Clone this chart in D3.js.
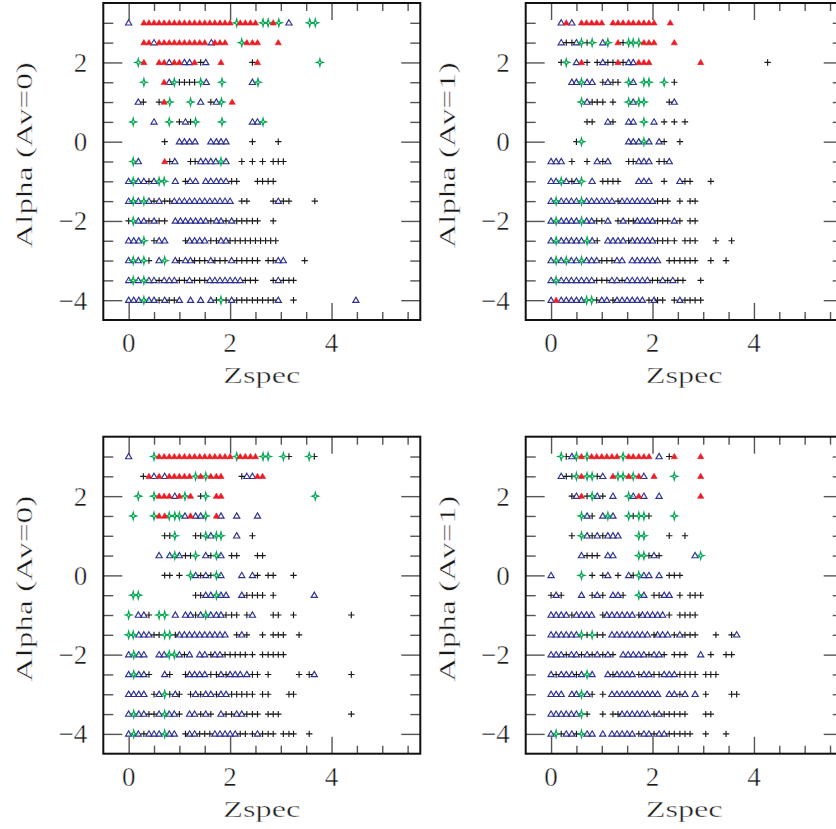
<!DOCTYPE html>
<html>
<head>
<meta charset="utf-8">
<script src="https://cdn.jsdelivr.net/npm/d3@7"></script>
<style>
  html, body { margin: 0; padding: 0; background: #fff; overflow: hidden; }
  svg { display: block; }
  svg text { font-family: "Liberation Serif", serif; font-weight: 400; }
</style>
</head>
<body>
<svg id="chart" width="836" height="829"></svg>
<script>
// Alpha grid rows shared by every panel (top to bottom)
const alphaRows = [3, 2.5, 2, 1.5, 1, 0.5, 0, -0.5, -1, -1.5, -2, -2.5, -3, -3.5, -4];

// Upper-left panel, Av = 0 : Zspec values per alpha row
const a0TopOpen = [
  [0.0, 3.16], [0.5, 1.63], [0.8, 1.1, 1.2, 1.52], [0.8, 1.53, 2.44], [0.19, 1.42, 1.73],
  [0.5, 1.12, 2.44, 2.54], [1.0, 1.1, 1.2, 1.31, 1.62, 1.73, 1.82, 1.92],
  [0.19, 0.91, 1.42, 1.52, 1.62, 1.72, 1.92],
  [0.0, 0.19, 0.3, 0.5, 0.92, 1.21, 1.32, 1.52, 1.62, 1.73, 1.82, 1.92],
  [0.0, 0.19, 0.4, 0.6, 0.9, 1.0, 1.1, 1.2, 1.3, 1.4, 1.5, 1.6, 1.7, 1.8, 1.9, 2.0, 2.95],
  [0.19, 0.3, 0.5, 0.92, 1.02, 1.12, 1.22, 1.32, 1.42, 1.52, 1.73, 1.82, 2.03],
  [0.0, 0.1, 0.2, 0.6, 0.71, 1.2, 1.3, 1.4, 1.5, 1.82, 1.92],
  [0.0, 0.19, 0.6, 0.92, 1.12, 1.22, 1.62, 2.03, 2.95, 3.05],
  [0.0, 0.19, 0.4, 0.5, 0.7, 0.8, 0.9, 1.2, 1.6, 1.7, 1.8, 1.9, 2.0, 2.1, 2.2, 2.95],
  [0.0, 0.1, 0.2, 0.4, 0.5, 0.71, 1.0, 1.22, 1.42, 1.62, 2.03, 2.95, 4.48]
];
const a0TopCross = [
  [], [], [1.42, 2.44], [1.0, 1.1, 1.2, 1.3], [0.29, 0.6, 1.62], [1.0, 1.22], [0.71, 2.44, 2.95],
  [0.81, 1.22, 1.31, 2.23, 2.44, 2.64, 2.85, 2.95, 3.05],
  [0.4, 1.12, 2.03, 2.13, 2.54, 2.64, 2.75, 2.85],
  [0.5, 0.71, 0.81, 2.23, 2.33, 2.85, 3.05, 3.16, 3.67],
  [0.0, 0.4, 0.6, 0.71, 1.62, 1.92, 2.13, 2.23, 2.33, 2.44, 2.54, 2.85],
  [0.5, 1.12, 1.62, 1.73, 2.0, 2.1, 2.2, 2.3, 2.4, 2.5, 2.6, 2.7, 2.8, 2.9],
  [0.4, 1.0, 1.3, 1.4, 1.5, 1.7, 1.8, 1.9, 2.13, 2.23, 2.33, 2.44, 2.54, 2.75, 2.85, 3.47],
  [0.6, 1.0, 1.1, 1.3, 1.4, 1.5, 2.3, 2.4, 2.5, 2.85, 3.05, 3.16, 3.25],
  [0.6, 0.8, 0.9, 1.73, 1.92, 2.13, 2.23, 2.33, 2.44, 2.54, 2.64, 2.75, 2.85, 3.25]
];
const a0TopStar = [
  [2.13, 2.65, 2.75, 2.96, 3.57, 3.68], [2.23], [0.19, 3.77], [0.3, 0.9, 1.42, 1.84, 2.55],
  [0.81, 1.22, 1.83], [0.09, 0.8, 1.32, 1.84, 2.65], [], [0.09, 1.82], [0.09, 0.6, 0.7],
  [0.09, 0.3], [0.09], [0.3], [0.09, 0.3, 0.71], [0.09, 0.3], [0.3, 1.82]
];
const a0TopFilled = [
  [0.3, 0.4, 0.5, 0.6, 0.7, 0.8, 0.9, 1.0, 1.1, 1.2, 1.3, 1.4, 1.5, 1.6, 1.7, 1.8, 1.9, 2.0, 2.2, 2.3, 2.4, 2.5, 2.85],
  [0.3, 0.4, 0.6, 0.7, 0.8, 0.9, 1.0, 1.1, 1.2, 1.3, 1.4, 1.5, 1.7, 1.8, 1.9, 2.33, 2.44, 2.54, 2.95],
  [0.3, 0.6, 0.7, 0.9, 1.0, 1.3, 1.82, 2.54],
  [0.7], [0.7, 2.04], [], [], [0.71], [], [], [], [], [], [], []
];

// Upper-right panel, Av = 1
const a1TopOpen = [
  [0.2, 0.41], [0.2, 0.5, 1.02], [0.5, 1.02, 1.53, 1.62], [0.41, 0.5, 0.71, 0.81, 1.12, 1.62],
  [0.71, 1.62, 2.43], [1.12, 1.53, 1.62, 2.03], [1.53, 1.62, 1.73, 1.93, 2.13],
  [0.0, 0.1, 0.2, 0.91, 1.12, 1.73, 1.83, 1.93, 2.33],
  [0.0, 0.1, 0.3, 0.5, 0.81, 1.73, 1.83, 1.93, 2.54],
  [0.0, 0.2, 0.3, 0.4, 0.5, 0.7, 0.8, 0.9, 1.0, 1.1, 1.2, 1.4, 1.5, 1.6, 1.7, 1.8, 1.9, 2.0],
  [0.0, 0.2, 0.3, 0.4, 0.5, 0.7, 0.8, 1.12, 1.42, 1.7, 1.8, 1.9, 2.0, 2.43],
  [0.0, 0.2, 0.3, 0.4, 0.5, 0.6, 0.81, 1.12, 1.22, 1.32, 1.42, 1.6, 1.7, 1.8, 1.9, 2.0],
  [0.0, 0.2, 0.4, 0.5, 0.7, 0.8, 0.9, 1.3, 1.4, 1.6, 1.7, 1.8, 1.9, 2.0, 2.1],
  [0.0, 0.2, 0.3, 0.4, 0.5, 0.6, 0.7, 0.8, 1.2, 1.3, 1.5, 1.6, 1.7, 1.8, 1.9, 2.2, 2.4],
  [0.0, 0.2, 0.3, 0.4, 0.5, 0.6, 1.0, 1.1, 1.3, 1.4, 1.5, 1.6, 1.7, 1.8, 2.03, 2.54]
];
const a1TopCross = [
  [], [0.3, 0.41, 0.71, 1.42], [0.2, 0.71, 0.91, 1.12, 1.22, 1.42, 4.27], [1.02, 1.22, 1.32, 2.43],
  [0.81, 0.91, 1.02, 1.22, 2.33], [0.71, 0.81, 1.22, 2.23, 2.43, 2.64], [0.5, 2.23, 2.54],
  [0.41, 0.71, 1.02, 1.53, 1.62, 2.13, 2.23],
  [0.41, 1.02, 1.12, 1.22, 1.32, 2.23, 2.64, 2.74, 3.15],
  [1.32, 2.1, 2.2, 2.3, 2.54, 2.74, 2.84],
  [0.9, 1.0, 1.32, 1.53, 1.62, 2.1, 2.2, 2.3, 2.54, 2.74, 2.84],
  [0.91, 1.53, 2.1, 2.2, 2.3, 2.43, 2.64, 2.74, 2.84, 3.25, 3.56],
  [1.0, 1.1, 1.2, 2.33, 2.43, 2.54, 2.64, 2.74, 2.84, 3.15, 3.45],
  [0.9, 1.0, 1.1, 1.4, 2.0, 2.1, 2.3, 2.5, 2.6, 2.95],
  [0.9, 1.22, 1.93, 2.1, 2.2, 2.43, 2.64, 2.74, 2.84, 2.95]
];
const a1TopStar = [
  [], [0.6, 0.81, 1.12, 1.53, 1.62, 1.73], [0.3], [0.6, 1.53, 1.83, 1.93, 2.23],
  [0.6, 1.53, 1.73, 1.83], [1.83], [0.6, 1.83], [], [0.2, 0.6], [0.1, 0.6], [0.1, 0.6],
  [0.1, 0.71], [0.1, 0.3, 0.6], [0.1], [0.7, 0.8]
];
const a1TopFilled = [
  [0.3, 0.6, 0.7, 0.8, 0.9, 1.0, 1.22, 1.32, 1.42, 1.53, 1.62, 1.73, 1.83, 1.93, 2.03, 2.35],
  [1.32, 1.83, 1.93, 2.03, 2.43],
  [0.6, 1.32, 1.73, 1.83, 1.93, 2.95],
  [], [], [], [], [], [], [], [], [], [], [], [0.1]
];

// Lower-left panel, Av = 0
const a0BotOpen = [
  [0.0], [0.5, 0.71, 2.33, 2.44], [0.91], [1.11, 1.32, 1.42, 1.82, 2.13, 2.54], [1.62, 2.13],
  [0.6, 0.81, 1.0, 1.52, 1.82], [1.32, 1.52, 1.82, 2.23, 2.44],
  [1.52, 1.62, 1.82, 1.92, 2.23, 3.66],
  [0.19, 0.3, 0.92, 1.12, 1.22, 1.42, 1.62, 1.73, 1.82, 2.44],
  [0.2, 0.3, 0.4, 1.0, 1.1, 1.2, 1.3, 1.4, 1.5, 1.6, 1.7, 1.8, 1.9, 2.23],
  [0.0, 0.2, 0.3, 0.6, 0.7, 1.0, 1.2, 1.4, 1.5, 1.7, 1.8],
  [0.0, 0.2, 0.3, 0.71, 1.2, 1.3, 1.4, 1.5, 1.82, 2.0, 2.1, 2.2, 2.33, 3.66],
  [0.0, 0.1, 0.2, 0.3, 0.6, 0.92, 1.32, 1.52, 1.62, 1.82, 1.92],
  [0.0, 0.2, 0.3, 0.6, 0.8, 0.9, 1.2, 1.3, 1.52, 1.82, 2.13, 2.23],
  [0.0, 0.19, 0.4, 0.5, 0.6, 0.8, 0.9, 1.2, 1.3, 1.7, 1.8, 1.9, 2.0, 2.1, 2.54]
];
const a0BotCross = [
  [3.16, 3.66], [0.29, 2.23], [1.42], [], [0.71, 0.81, 1.32, 1.42, 2.44],
  [1.12, 1.22, 1.62, 2.03, 2.13, 2.54, 2.64],
  [0.71, 0.81, 1.0, 1.42, 1.62, 2.54, 2.75, 2.85, 3.25],
  [1.32, 1.42, 2.33, 2.44, 2.54, 2.64, 2.85],
  [0.4, 1.32, 1.92, 2.03, 2.13, 2.33, 2.85, 2.95, 3.25, 4.39],
  [0.5, 0.6, 0.92, 2.13, 2.33, 2.64, 2.85, 2.95, 3.05, 3.36],
  [1.1, 1.62, 1.9, 2.0, 2.1, 2.2, 2.3, 2.44, 2.64, 2.75, 2.85, 2.95, 3.05],
  [0.4, 0.81, 1.12, 1.62, 1.73, 1.92, 2.44, 2.54, 2.75, 3.36, 3.56, 4.39],
  [0.5, 0.81, 1.0, 1.22, 1.42, 1.73, 2.03, 2.13, 2.23, 2.33, 2.44, 2.64, 2.75, 3.16, 3.25],
  [0.4, 0.5, 1.0, 1.42, 1.62, 1.92, 2.03, 2.33, 2.44, 2.54, 2.75, 2.85, 2.95, 4.39],
  [0.3, 1.12, 1.4, 1.5, 1.6, 2.2, 2.3, 2.44, 2.64, 2.75, 2.85, 3.05, 3.16, 3.25, 3.56]
];
const a0BotStar = [
  [0.5, 2.13, 2.65, 2.75, 3.05, 3.56], [1.32, 1.52], [0.19, 0.5, 1.11, 1.52, 3.68],
  [0.09, 0.5, 0.8, 0.91, 1.0, 1.52], [0.91, 1.52, 1.73, 1.82], [0.91, 1.32, 1.73],
  [1.22, 1.73], [0.09, 0.19, 1.73], [0.0, 0.6, 0.71, 1.52], [0.0, 0.09, 0.71, 0.81],
  [0.1, 0.8, 0.9], [0.1], [0.71], [0.1, 0.71], [0.1, 0.71]
];
const a0BotFilled = [
  [0.6, 0.7, 0.8, 0.9, 1.0, 1.1, 1.2, 1.3, 1.4, 1.5, 1.6, 1.7, 1.8, 1.9, 2.0, 2.2, 2.3, 2.4, 2.5],
  [0.4, 0.6, 0.8, 0.9, 1.0, 1.1, 1.2, 1.42, 1.62, 1.73, 1.82, 2.54, 2.64],
  [0.6, 0.7, 0.8, 1.0, 1.22, 1.73, 1.82],
  [0.6, 0.71, 1.22, 1.73],
  [], [], [], [], [], [], [], [], [], [], []
];

// Lower-right panel, Av = 1
const a1BotOpen = [
  [0.41, 2.13], [0.2, 1.02, 1.83], [0.5, 0.91, 1.22, 1.62, 1.83, 2.13], [0.71, 1.02, 1.22],
  [0.71, 0.91, 1.12, 1.22, 1.32], [0.6, 1.12, 1.22, 2.03, 2.84], [0.0, 1.12, 1.53, 1.83, 1.93, 2.13],
  [0.1, 0.6, 0.91, 1.22, 1.32, 1.83, 2.23, 2.33],
  [0.0, 0.1, 0.2, 0.3, 0.5, 0.6, 0.7, 0.8, 1.1, 1.2, 1.3, 1.4, 1.5, 1.6, 1.8, 1.9, 2.0, 2.1, 2.2],
  [0.0, 0.1, 0.2, 0.3, 0.4, 0.5, 1.2, 1.3, 1.4, 1.5, 1.6, 1.7, 1.8, 1.9, 2.1, 2.2, 2.3, 2.54, 3.66],
  [0.0, 0.1, 0.2, 0.4, 0.5, 0.71, 0.91, 1.12, 1.42, 1.52, 1.62, 1.73, 1.83, 2.03, 2.13, 2.95],
  [0.0, 0.2, 0.3, 0.41, 0.6, 0.81, 1.12, 1.3, 1.4, 1.5, 1.6, 1.83, 1.93, 2.23, 2.33, 2.43],
  [0.0, 0.1, 0.2, 0.41, 0.5, 0.71, 1.2, 1.3, 1.4, 1.5, 1.6, 1.7, 1.8, 1.9, 2.0, 2.1, 2.33, 2.43, 2.64, 2.84],
  [0.0, 0.1, 0.2, 0.3, 0.4, 0.5, 1.4, 1.5, 1.6, 1.7, 1.8, 1.9, 2.13],
  [0.0, 0.3, 0.41, 0.71, 0.81, 1.02, 1.2, 1.3, 1.4, 1.5, 1.6, 1.83, 1.93, 2.13, 2.23]
];
const a1BotCross = [
  [0.3, 2.33], [0.3, 0.41, 0.91], [0.41, 0.71, 1.02], [0.81, 1.62, 1.93],
  [0.41, 0.81, 1.02, 2.33, 2.64], [0.71, 0.81, 0.91, 1.93, 2.13],
  [0.81, 1.02, 1.32, 1.62, 2.33, 2.43, 2.54],
  [0.0, 0.2, 0.81, 1.02, 1.42, 2.03, 2.13, 2.54, 2.74, 2.84, 2.95],
  [0.41, 1.02, 1.73, 2.33, 2.54, 2.64, 2.74, 2.84],
  [0.71, 0.91, 1.02, 2.03, 2.43, 2.64, 2.74, 2.84, 3.25, 3.56],
  [0.3, 0.6, 0.81, 1.02, 1.22, 1.93, 2.23, 2.43, 2.54, 2.64, 3.15, 3.45, 3.56],
  [0.1, 0.5, 1.22, 1.73, 2.03, 2.13, 2.54, 2.64, 2.74, 2.84, 3.05, 3.15, 3.25],
  [0.81, 1.02, 2.54, 3.05, 3.56, 3.66],
  [0.71, 1.02, 1.22, 1.32, 2.03, 2.23, 2.33, 2.43, 2.54, 2.64, 3.05, 3.15],
  [0.2, 0.5, 1.73, 2.03, 2.33, 2.43, 2.54, 2.64, 2.74, 3.05, 3.45]
];
const a1BotStar = [
  [0.2, 0.5, 0.71, 1.42], [0.5, 0.71, 0.81, 1.32, 1.42, 1.62, 2.43], [0.81, 1.53],
  [0.6, 1.12, 1.53, 1.73, 1.83, 2.43], [0.6, 1.73, 1.83], [1.73, 1.83, 2.95], [0.6, 1.73],
  [1.73], [], [0.6, 0.81], [], [0.71], [0.6], [0.6], [0.1, 0.6]
];
const a1BotFilled = [
  [0.6, 0.8, 0.9, 1.0, 1.1, 1.2, 1.3, 1.53, 1.62, 1.73, 1.83, 1.93, 2.43, 2.95],
  [0.6, 1.22, 1.53, 1.73, 2.03, 2.95],
  [0.6, 1.73, 2.95],
  [], [], [], [], [], [], [], [], [], [], [], []
];

// Axis settings
const zspecDomain = [-0.5, 5.75];
const alphaDomain = [-4.5, 3.5];
const zspecTicks = [0, 0.5, 1, 1.5, 2, 2.5, 3, 3.5, 4, 4.5, 5, 5.5];
const zspecMajor = [0, 2, 4];
const alphaTicks = [-4, -3.5, -3, -2.5, -2, -1.5, -1, -0.5, 0, 0.5, 1, 1.5, 2, 2.5, 3];
const alphaMajor = [-4, -2, 0, 2];
const xTitle = "Zspec";

const panels = [
  { left: 103.3, top: 3,     title: "Alpha (Av=0)", open: a0TopOpen, cross: a0TopCross, star: a0TopStar, filled: a0TopFilled },
  { left: 525.7, top: 3,     title: "Alpha (Av=1)", open: a1TopOpen, cross: a1TopCross, star: a1TopStar, filled: a1TopFilled },
  { left: 103.3, top: 436.7, title: "Alpha (Av=0)", open: a0BotOpen, cross: a0BotCross, star: a0BotStar, filled: a0BotFilled },
  { left: 525.7, top: 436.7, title: "Alpha (Av=1)", open: a1BotOpen, cross: a1BotCross, star: a1BotStar, filled: a1BotFilled }
];

const W = 317, H = 317;
const svg = d3.select("#chart");
svg.append("rect").attr("width", 836).attr("height", 829).attr("fill", "#fff");

// Marker paths centred at the origin
const triPath = "M0,-3.1L3.1,2.2L-3.1,2.2Z";
const crossPath = "M-3.2,0H3.2M0,-3.2V3.2";
const starPath = "M0,-3.8L0.8,-0.8L3.4,0L0.8,0.8L0,3.8L-0.8,0.8L-3.4,0L-0.8,-0.8Z";

function pointsOf(rows) {
  const pts = [];
  rows.forEach((zs, i) => zs.forEach(z => pts.push({ z, a: alphaRows[i] })));
  return pts;
}

// thin the serif glyphs slightly with a white outline painted over the fill
const lightText = sel => sel.attr("fill", "#1a1a1a").attr("stroke", "#fff")
  .attr("stroke-width", 0.4).attr("paint-order", "fill");

panels.forEach(p => {
  const x = d3.scaleLinear().domain(zspecDomain).range([p.left, p.left + W]);
  const y = d3.scaleLinear().domain(alphaDomain).range([p.top + H, p.top]);
  const g = svg.append("g");

  // tick marks on all four sides, pointing inward
  const tickStyle = sel => {
    sel.select(".domain").remove();
    sel.selectAll(".tick line").attr("stroke", "#555").attr("stroke-width", 1.4);
    sel.selectAll(".tick text").remove();
  };
  const xMinor = zspecTicks.filter(v => !zspecMajor.includes(v));
  const yMinor = alphaTicks.filter(v => !alphaMajor.includes(v));
  g.append("g").attr("transform", `translate(0,${p.top + H})`)
    .call(d3.axisBottom(x).tickValues(xMinor).tickSize(-8)).call(tickStyle);
  g.append("g").attr("transform", `translate(0,${p.top + H})`)
    .call(d3.axisBottom(x).tickValues(zspecMajor).tickSize(-17)).call(tickStyle);
  g.append("g").attr("transform", `translate(0,${p.top})`)
    .call(d3.axisTop(x).tickValues(xMinor).tickSize(-8)).call(tickStyle);
  g.append("g").attr("transform", `translate(0,${p.top})`)
    .call(d3.axisTop(x).tickValues(zspecMajor).tickSize(-17)).call(tickStyle);
  g.append("g").attr("transform", `translate(${p.left},0)`)
    .call(d3.axisLeft(y).tickValues(yMinor).tickSize(-10)).call(tickStyle);
  g.append("g").attr("transform", `translate(${p.left},0)`)
    .call(d3.axisLeft(y).tickValues(alphaMajor).tickSize(-19)).call(tickStyle);
  g.append("g").attr("transform", `translate(${p.left + W},0)`)
    .call(d3.axisRight(y).tickValues(yMinor).tickSize(-10)).call(tickStyle);
  g.append("g").attr("transform", `translate(${p.left + W},0)`)
    .call(d3.axisRight(y).tickValues(alphaMajor).tickSize(-19)).call(tickStyle);

  // frame
  g.append("rect").attr("x", p.left).attr("y", p.top).attr("width", W).attr("height", H)
    .attr("fill", "none").attr("stroke", "#111").attr("stroke-width", 2);

  // tick labels
  g.selectAll(".xl").data(zspecMajor).join("text")
    .attr("x", d => x(d)).attr("y", p.top + H + 32)
    .attr("text-anchor", "middle").attr("font-size", 27)
    .call(lightText).text(d => d3.format("d")(d));
  g.selectAll(".yl").data(alphaMajor).join("text")
    .attr("x", p.left - 16).attr("y", d => y(d) + 9.5)
    .attr("text-anchor", "end").attr("font-size", 27)
    .call(lightText).text(d => d < 0 ? "\u2212" + Math.abs(d) : String(d));

  // axis titles
  g.append("text")
    .attr("x", p.left + W / 2 - 38.5).attr("y", p.top + H + 63)
    .attr("font-size", 24).call(lightText)
    .attr("textLength", 77).attr("lengthAdjust", "spacingAndGlyphs").text(xTitle);
  const ty = p.top + 152;
  g.append("text")
    .attr("transform", `translate(${p.left - 71},${ty + 93}) rotate(-90)`)
    .attr("font-size", 24).call(lightText)
    .attr("textLength", 186).attr("lengthAdjust", "spacingAndGlyphs").text(p.title);

  // markers: open triangles, crosses, stars, filled triangles
  g.append("g").selectAll("path").data(pointsOf(p.open)).join("path")
    .attr("d", triPath).attr("transform", d => `translate(${x(d.z)},${y(d.a)})`)
    .attr("fill", "none").attr("stroke", "#2e3192").attr("stroke-width", 1.15);
  g.append("g").selectAll("path").data(pointsOf(p.cross)).join("path")
    .attr("d", crossPath).attr("transform", d => `translate(${x(d.z)},${y(d.a)})`)
    .attr("fill", "none").attr("stroke", "#1a1a1a").attr("stroke-width", 1.15);
  g.append("g").selectAll("path").data(pointsOf(p.star)).join("path")
    .attr("d", starPath).attr("transform", d => `translate(${x(d.z)},${y(d.a)})`)
    .attr("fill", "none").attr("stroke", "#00a651").attr("stroke-width", 1.15);
  g.append("g").selectAll("path").data(pointsOf(p.filled)).join("path")
    .attr("d", triPath).attr("transform", d => `translate(${x(d.z)},${y(d.a)})`)
    .attr("fill", "#ed1c24").attr("stroke", "#ed1c24").attr("stroke-width", 0.6);
});
</script>
</body>
</html>
